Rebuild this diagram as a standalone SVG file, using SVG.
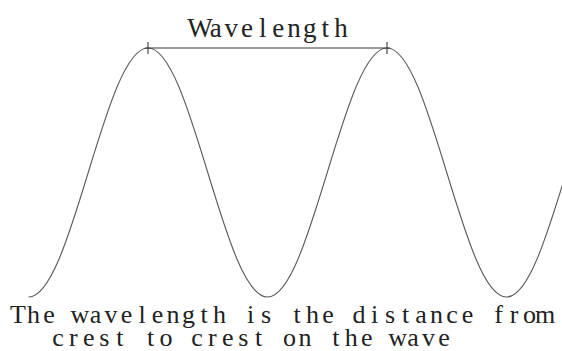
<svg xmlns="http://www.w3.org/2000/svg" width="562" height="351" viewBox="0 0 562 351">
<style>
.wave{fill:none;stroke:#5a5a5a;stroke-width:1.1}
.dim{fill:none;stroke:#3a3a3a;stroke-width:1.1}
.t{font-family:"Liberation Serif","Times New Roman",serif;font-size:26px;fill:#222;text-anchor:middle}
.title{font-size:27px}
</style>
<rect width="562" height="351" fill="#fff"/>
<g id="wave">
<path class="wave" d="M28.5,297 C50.12,297 68.76,236.28 88.25,172.5 C107.74,108.72 126.38,48 148,48 C169.62,48 188.26,108.72 207.75,172.5 C227.24,236.28 245.88,297 267.5,297 C289.12,297 307.76,236.28 327.25,172.5 C346.74,108.72 365.38,48 387,48 C408.62,48 427.26,108.72 446.75,172.5 C466.24,236.28 484.88,297 506.5,297 C528.12,297 546.76,236.28 566.25,172.5"/>
</g>
<g id="wavelength-marker">
<path class="dim" d="M145,48 H390 M148,42 V54 M387,42 V54"/>
<text class="t title" y="37" x="200 215.67 231.34 247.01 262.68 278.35 294.02 309.69 325.36 341.03">Wavelength</text>
</g>
<g id="caption">
<text class="t" y="323" x="18 33.5 49 64.5 80 95.5 111 126.5 142 157.5 173 188.5 204 219.5 235 250.5 266 281.5 297 312.5 328 343.5 359 374.5 390 405.5 421 436.5 452 467.5 483 498.5 514 529.5 545">The wavelength is the distance from</text>
<text class="t" y="346" x="58 73.44 88.88 104.32 119.76 135.2 150.64 166.08 181.52 196.96 212.4 227.84 243.28 258.72 274.16 289.6 305.04 320.48 335.92 351.36 366.8 382.24 397.68 413.12 428.56 444">crest to crest on the wave</text>
</g>
</svg>
